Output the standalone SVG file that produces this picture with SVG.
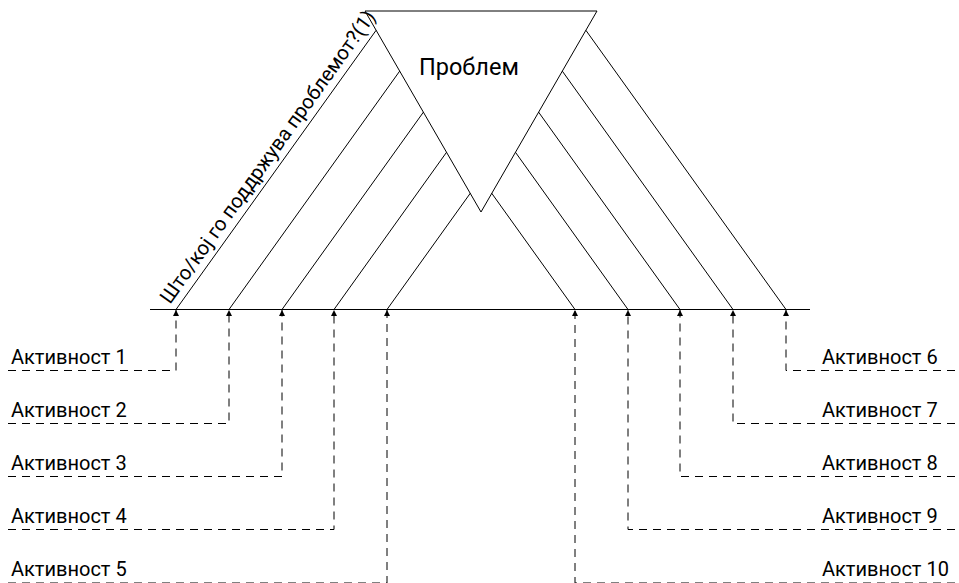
<svg xmlns="http://www.w3.org/2000/svg" width="959" height="583" viewBox="0 0 959 583">
<defs>
<style>
.ln{stroke:#000;stroke-width:1;fill:none}
.dash{stroke:#000;stroke-width:1;fill:none;stroke-dasharray:8,6}
.lbl{font-family:Roboto,"Liberation Sans",sans-serif;font-size:20px;fill:#000}
</style>
<marker id="arr" viewBox="0 0 6 6" refX="6" refY="3" markerWidth="6" markerHeight="6" markerUnits="userSpaceOnUse" orient="auto">
<path d="M0,0 L6,3 L0,6 Z" fill="#000"/>
</marker>
</defs>
<rect width="959" height="583" fill="#fff"/>
<g id="spine">
<line class="ln" x1="150" y1="309.5" x2="810" y2="309.5"/>
</g>
<g id="ribs">
<line class="ln" x1="176" y1="309.5" x2="376.1" y2="30.3"/>
<line class="ln" x1="229" y1="309.5" x2="399.7" y2="71.1"/>
<line class="ln" x1="282" y1="309.5" x2="423.5" y2="112"/>
<line class="ln" x1="334" y1="309.5" x2="446.6" y2="152.2"/>
<line class="ln" x1="387" y1="309.5" x2="470.4" y2="193.1"/>
<line class="ln" x1="786" y1="309.5" x2="585.9" y2="30.3"/>
<line class="ln" x1="733" y1="309.5" x2="562.3" y2="71.1"/>
<line class="ln" x1="680" y1="309.5" x2="538.5" y2="112"/>
<line class="ln" x1="628" y1="309.5" x2="515.4" y2="152.2"/>
<line class="ln" x1="575" y1="309.5" x2="491.6" y2="193.1"/>
</g>
<g id="problem">
<polygon class="ln" points="365,11 597,11 481,212" fill="#fff"/>
<text class="lbl" x="419" y="75" style="font-size:23.5px">Проблем</text>
</g>
<g id="question">
<text class="lbl" transform="translate(170,305) rotate(-54.4)" style="font-size:20.2px">Што/кој го поддржува проблемот?(1)</text>
</g>
<g id="connectors">
<path class="dash" d="M8,370.5 H176 V310" marker-end="url(#arr)"/>
<path class="dash" d="M8,423.5 H229 V310" marker-end="url(#arr)"/>
<path class="dash" d="M8,476.5 H282 V310" marker-end="url(#arr)"/>
<path class="dash" d="M8,529.5 H334 V310" marker-end="url(#arr)"/>
<path class="dash" d="M8,583 H387 V310" marker-end="url(#arr)"/>
<path class="dash" d="M955,370.5 H786 V310" marker-end="url(#arr)"/>
<path class="dash" d="M955,423.5 H733 V310" marker-end="url(#arr)"/>
<path class="dash" d="M955,476.5 H680 V310" marker-end="url(#arr)"/>
<path class="dash" d="M955,529.5 H628 V310" marker-end="url(#arr)"/>
<path class="dash" d="M955,583 H575 V310" marker-end="url(#arr)"/>
</g>
<g id="a1"><text class="lbl" x="11" y="364">Активност 1</text></g>
<g id="a2"><text class="lbl" x="11" y="417">Активност 2</text></g>
<g id="a3"><text class="lbl" x="11" y="470">Активност 3</text></g>
<g id="a4"><text class="lbl" x="11" y="523">Активност 4</text></g>
<g id="a5"><text class="lbl" x="11" y="576">Активност 5</text></g>
<g id="a6"><text class="lbl" x="822" y="364">Активност 6</text></g>
<g id="a7"><text class="lbl" x="822" y="417">Активност 7</text></g>
<g id="a8"><text class="lbl" x="822" y="470">Активност 8</text></g>
<g id="a9"><text class="lbl" x="822" y="523">Активност 9</text></g>
<g id="a10"><text class="lbl" x="822" y="576">Активност 10</text></g>
</svg>
